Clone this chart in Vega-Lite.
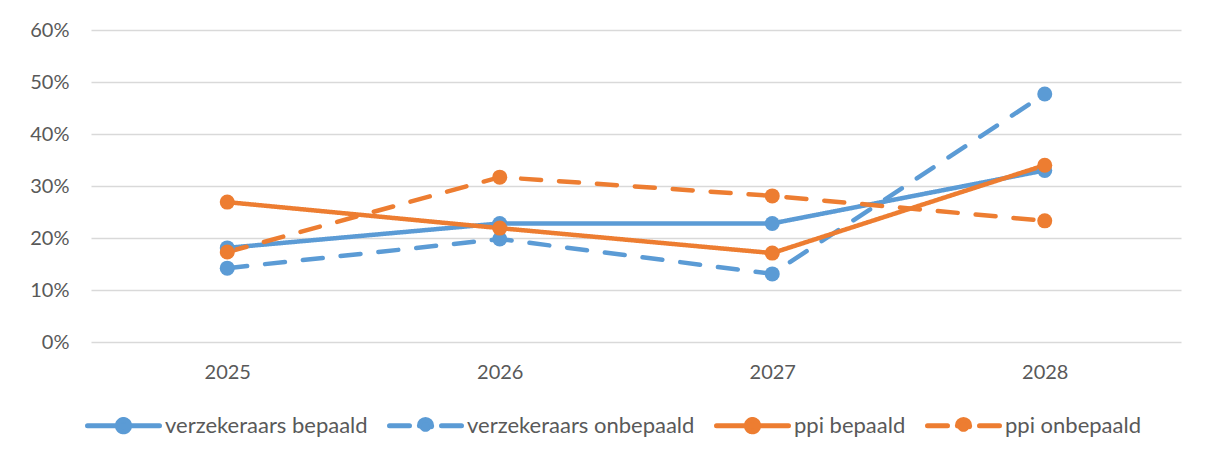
{
  "$schema": "https://vega.github.io/schema/vega-lite/v6.json",
  "width": 1090,
  "height": 312,
  "autosize": {"type": "none"},
  "padding": {"left": 91, "top": 30, "right": 25, "bottom": 118},
  "background": "white",
  "config": {
    "view": {"stroke": null},
    "font": "Lato",
    "axis": {"labelFont": "Lato", "labelColor": "#595959", "labelFontSize": 20}
  },
  "data": {
    "values": [
      {"jaar": "2025", "reeks": "verzekeraars bepaald", "waarde": 0.181},
      {"jaar": "2026", "reeks": "verzekeraars bepaald", "waarde": 0.228},
      {"jaar": "2027", "reeks": "verzekeraars bepaald", "waarde": 0.228},
      {"jaar": "2028", "reeks": "verzekeraars bepaald", "waarde": 0.330},
      {"jaar": "2025", "reeks": "verzekeraars onbepaald", "waarde": 0.142},
      {"jaar": "2026", "reeks": "verzekeraars onbepaald", "waarde": 0.198},
      {"jaar": "2027", "reeks": "verzekeraars onbepaald", "waarde": 0.131},
      {"jaar": "2028", "reeks": "verzekeraars onbepaald", "waarde": 0.477},
      {"jaar": "2025", "reeks": "ppi bepaald", "waarde": 0.269},
      {"jaar": "2026", "reeks": "ppi bepaald", "waarde": 0.219},
      {"jaar": "2027", "reeks": "ppi bepaald", "waarde": 0.171},
      {"jaar": "2028", "reeks": "ppi bepaald", "waarde": 0.340},
      {"jaar": "2025", "reeks": "ppi onbepaald", "waarde": 0.173},
      {"jaar": "2026", "reeks": "ppi onbepaald", "waarde": 0.317},
      {"jaar": "2027", "reeks": "ppi onbepaald", "waarde": 0.281},
      {"jaar": "2028", "reeks": "ppi onbepaald", "waarde": 0.233}
    ]
  },
  "encoding": {
    "x": {
      "field": "jaar", "type": "ordinal",
      "scale": {"type": "point", "padding": 0.5},
      "axis": {"title": null, "labelAngle": 0, "ticks": false, "domain": false, "grid": false, "labelPadding": 20}
    },
    "y": {
      "field": "waarde", "type": "quantitative",
      "scale": {"domain": [0, 0.6], "nice": false},
      "axis": {
        "title": null, "format": ".0%", "values": [0, 0.1, 0.2, 0.3, 0.4, 0.5, 0.6],
        "ticks": false, "domain": false, "grid": true, "gridColor": "#d9d9d9", "gridWidth": 1.3,
        "labelPadding": 22
      }
    },
    "color": {
      "field": "reeks", "type": "nominal",
      "scale": {
        "domain": ["verzekeraars bepaald", "verzekeraars onbepaald", "ppi bepaald", "ppi onbepaald"],
        "range": ["#5B9BD5", "#5B9BD5", "#ED7D31", "#ED7D31"]
      },
      "legend": {
        "title": null,
        "orient": "none",
        "direction": "horizontal",
        "legendX": -6,
        "legendY": 357,
        "symbolType": "M-1,0L0,0M1,0L0,0M-0.17,0A0.17,0.17,0,1,1,0.17,0A0.17,0.17,0,1,1,-0.17,0Z",
        "symbolSize": 5184,
        "symbolStrokeWidth": 5,
        "labelFont": "Lato",
        "labelFontSize": 22,
        "labelColor": "#595959",
        "labelOffset": 3,
        "columnPadding": 11,
        "labelLimit": 400,
        "encode": {
          "symbols": {
            "update": {
              "fill": {"scale": "color", "field": "value"},
              "stroke": {"scale": "color", "field": "value"},
              "opacity": {"value": 1},
              "fillOpacity": {"value": 1},
              "strokeCap": {"value": "round"}
            }
          }
        }
      }
    }
  },
  "layer": [
    {
      "mark": {"type": "line", "strokeWidth": 4.5, "strokeCap": "round"},
      "encoding": {
        "strokeDash": {
          "field": "reeks", "type": "nominal",
          "scale": {
            "domain": ["verzekeraars bepaald", "verzekeraars onbepaald", "ppi bepaald", "ppi onbepaald"],
            "range": [[1, 0], [20, 18], [1, 0], [20, 18]]
          },
          "legend": null
        }
      }
    },
    {
      "mark": {"type": "point", "filled": true, "opacity": 1, "size": 225, "shape": "circle"},
      "encoding": {}
    }
  ]
}
